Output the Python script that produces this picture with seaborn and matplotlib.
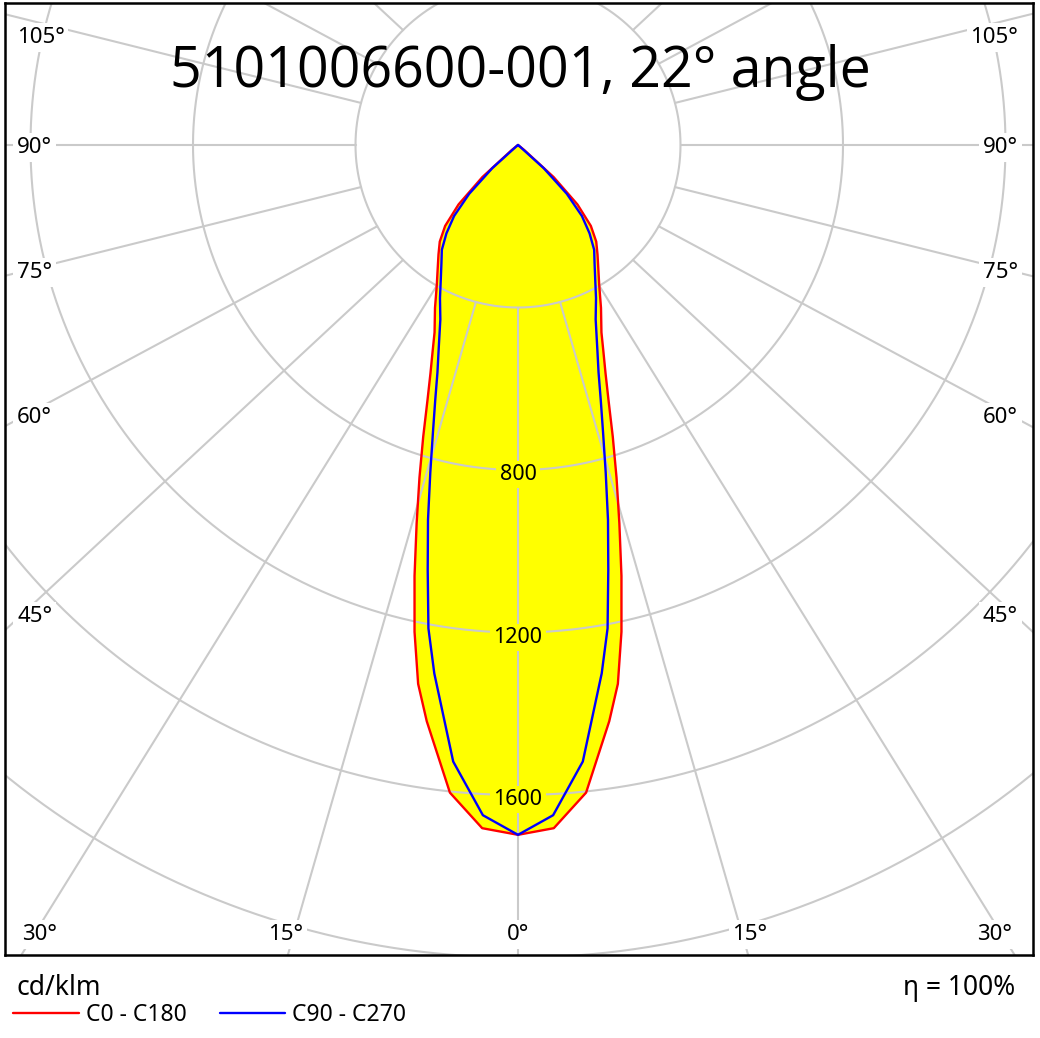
import numpy as np
import pandas as pd
import matplotlib
matplotlib.use("Agg")
import matplotlib.pyplot as plt
import seaborn as sns
from matplotlib.lines import Line2D

# ---------------- data ----------------
title = "5101006600-001, 22° angle"
gamma = [0, 3, 6, 9, 10.5, 12, 13.5, 15, 16.5, 18, 19.5, 21, 22.5, 24,
         27, 30, 33, 36, 39, 42, 45, 48, 51, 54, 90, 180]
c0_c180 = [1698, 1684, 1603, 1436, 1349, 1225, 1091, 964, 854, 755, 668, 601, 549, 505,
           450, 400, 363, 333, 306, 268, 207, 118, 20, 0, 0, 0]
c90_c270 = [1698, 1652, 1526, 1317, 1210, 1069, 949, 834, 737, 659, 594, 546, 505, 470,
            423, 380, 346, 319, 280, 235, 170, 85, 5, 0, 0, 0]
series_names = ["C0 - C180", "C90 - C270"]
series_colors = ["#ff0000", "#0000ff"]
ring_values = [400, 800, 1200, 1600, 2000, 2400]
ring_labels = ["800", "1200", "1600"]
spoke_angles = [0, 15, 30, 45, 60, 75, 90, 105, 120, 135, 150, 165, 180]
side_angle_labels = ["105°", "90°", "75°", "60°", "45°"]
bottom_angle_labels = ["30°", "15°", "0°", "15°", "30°"]
unit_label = "cd/klm"
efficiency_label = "η = 100%"

# ---------------- layout ----------------
W, H = 1040, 1038
FL, FR, FT, FB = 5, 1033, 3, 955        # frame in pixels
CX, CY = 518, 145                       # pole position in pixels
SCALE = 162.5 / 400                     # px per cd/klm
GRID = "#cacaca"
SPOKE_STRETCH = 1.06
SPOKE_REF = 2000

sns.set_style("white")
plt.rcParams["font.family"] = ["Noto Sans", "DejaVu Sans"]
plt.rcParams["text.color"] = "black"

fig = plt.figure(figsize=(W / 100, H / 100), dpi=100)
ax = fig.add_axes([FL / W, 1 - FB / H, (FR - FL) / W, (FB - FT) / H])

# build curve paths
g = np.radians(np.asarray(gamma, float))
frames = []
for name, vals in zip(series_names, [c0_c180, c90_c270]):
    I = np.asarray(vals, float)
    xl = -I[::-1] * np.sin(g[::-1])
    yl = -I[::-1] * np.cos(g[::-1])
    xr = I[1:] * np.sin(g[1:])
    yr = -I[1:] * np.cos(g[1:])
    x = np.concatenate([xl, xr])
    y = np.concatenate([yl, yr])
    frames.append(pd.DataFrame({"x": x, "y": y, "series": name}))
df = pd.concat(frames, ignore_index=True)

# fill of the first series
d0 = df[df["series"] == series_names[0]]
ax.fill(d0["x"], d0["y"], color="#ffff00", lw=0, zorder=1)

# grid circles
t = np.linspace(0, 2 * np.pi, 1441)
for r in ring_values:
    ax.plot(r * np.sin(t), r * np.cos(t), color=GRID, lw=1.5, zorder=2)

# spokes
r_in = ring_values[0]
for a in spoke_angles:
    for side in (-1, 1):
        if a in (0, 180) and side == -1:
            continue
        ar = np.radians(a)
        p0 = np.array([side * r_in * np.sin(ar), -r_in * np.cos(ar)])
        p1 = np.array([side * SPOKE_REF * SPOKE_STRETCH * np.sin(ar), -SPOKE_REF * np.cos(ar)])
        p2 = p0 + 3 * (p1 - p0)
        ax.plot([p0[0], p2[0]], [p0[1], p2[1]], color=GRID, lw=1.5, zorder=2)

# curves
sns.lineplot(data=df, x="x", y="y", hue="series", hue_order=series_names,
             palette=dict(zip(series_names, series_colors)), sort=False,
             estimator=None, legend=False, lw=1.7, ax=ax, zorder=4)

# ring value labels
ring_baselines_px = [480, 643, 805]
for lab, yb in zip(ring_labels, ring_baselines_px):
    ax.text(0, -(yb - CY) / SCALE, lab, ha="center", va="baseline", fontsize=15.5,
            color="black",
            bbox=dict(facecolor="#ffff00", edgecolor="none", pad=2.5), zorder=5)

ax.set_xlim(-(CX - FL) / SCALE, (FR - CX) / SCALE)
ax.set_ylim(-(FB - CY) / SCALE, (CY - FT) / SCALE)
ax.set_xticks([])
ax.set_yticks([])
ax.set_xlabel("")
ax.set_ylabel("")
for sp in ax.spines.values():
    sp.set_visible(True)
    sp.set_color("black")
    sp.set_linewidth(1.8)

# angle labels
lab_kw = dict(fontsize=16, va="baseline", color="black",
              bbox=dict(facecolor="white", edgecolor="none", pad=2.5), zorder=6)
side_baselines = [43, 153, 278, 423, 622]
for lab, yb in zip(side_angle_labels, side_baselines):
    fig.text(17 / W, 1 - yb / H, lab, ha="left", **lab_kw)
    fig.text(1018 / W, 1 - yb / H, lab, ha="right", **lab_kw)
bottom_centers = [40, 286, 518, 750, 995]
for lab, xc in zip(bottom_angle_labels, bottom_centers):
    fig.text(xc / W, 1 - 940 / H, lab, ha="center", **lab_kw)

# title
fig.text(520 / W, 1 - 87 / H, title, ha="center", va="baseline", fontsize=40,
         color="black", family=["Open Sans", "DejaVu Sans"])

# bottom texts
fig.text(17 / W, 1 - 995 / H, unit_label, ha="left", va="baseline", fontsize=19, color="black")
fig.text(1015 / W, 1 - 995 / H, efficiency_label, ha="right", va="baseline", fontsize=19,
         color="black")

handles = [Line2D([], [], color=c, lw=1.7) for c in series_colors]
leg = fig.legend(handles, series_names, loc="center left", bbox_to_anchor=(13 / W, 1 - 1015 / H),
                 ncol=2, frameon=False, fontsize=16.5, handlelength=2.87, handletextpad=0.3,
                 columnspacing=1.45, borderpad=0, borderaxespad=0)
for txt in leg.get_texts():
    txt.set_color("black")

fig.savefig("out.png", dpi=100)
